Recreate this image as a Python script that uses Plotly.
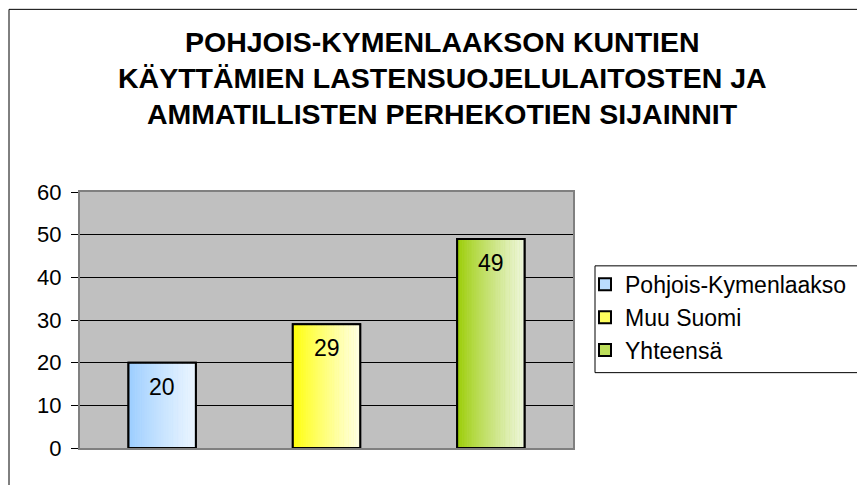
import plotly.graph_objects as go

# ---- data ----
categories = ["Pohjois-Kymenlaakso", "Muu Suomi", "Yhteensä"]
values = [20, 29, 49]
color_start = ["#99CCFF", "#FFFF00", "#99CC00"]
color_end = ["#EDF6FF", "#FFFFEA", "#F0F7E0"]
y_ticks = [0, 10, 20, 30, 40, 50, 60]
title_lines = [
    "POHJOIS-KYMENLAAKSON KUNTIEN",
    "KÄYTTÄMIEN LASTENSUOJELULAITOSTEN JA",
    "AMMATILLISTEN PERHEKOTIEN SIJAINNIT",
]

FONT = "Liberation Sans, Arial, sans-serif"
BAR_W = 0.41
N_SLICES = 40

W, H = 865, 485
OFF = 8  # page body margin offset
PX0, PX1, PY0, PY1 = 80, 573, 192, 448.5
L, T = PX0 - OFF, PY0 - OFF
R, B = W - (PX1 - OFF), H - (PY1 - OFF)
PW, PH = PX1 - PX0, PY1 - PY0


def fx(sx):
    return (sx - PX0) / PW


def fy(sy):
    return (PY1 - sy) / PH


def hex_rgb(h):
    h = h.lstrip("#")
    return tuple(int(h[j:j + 2], 16) for j in (0, 2, 4))


def mix(c1, c2, t):
    a, b = hex_rgb(c1), hex_rgb(c2)
    return "rgb(%d,%d,%d)" % tuple(round(a[j] + (b[j] - a[j]) * t) for j in range(3))


fig = go.Figure()
for i, (cat, val) in enumerate(zip(categories, values)):
    c1, c2 = color_start[i], color_end[i]
    fig.add_trace(go.Bar(
        x=[i], y=[val], width=BAR_W, name=cat, legendgroup=cat,
        marker=dict(color=mix(c1, c2, 0.4), line=dict(color="black", width=2)),
        hoverinfo="skip",
    ))
    step = BAR_W / N_SLICES
    for k in range(N_SLICES):
        t = ((k + 0.5) / N_SLICES) ** 0.85
        fig.add_trace(go.Bar(
            x=[i], y=[val], width=step * 1.2, offset=-BAR_W / 2 + k * step,
            marker=dict(color=mix(c1, c2, t), line=dict(width=0)),
            showlegend=False, legendgroup=cat, hoverinfo="skip",
        ))
    fig.add_trace(go.Bar(
        x=[i], y=[val], width=BAR_W, legendgroup=cat,
        marker=dict(color="rgba(0,0,0,0)", line=dict(color="black", width=2)),
        showlegend=False, name=cat,
    ))

annotations = [
    dict(x=i, y=v, xref="x", yref="y", text=str(v), showarrow=False,
         yshift=-24, yanchor="middle", font=dict(family=FONT, size=23, color="black"))
    for i, v in enumerate(values)
]
title_y = [42, 78, 113.5]
for line, sy in zip(title_lines, title_y):
    annotations.append(dict(
        x=fx(442), y=fy(sy), xref="paper", yref="paper", text="<b>%s</b>" % line,
        showarrow=False, xanchor="center", yanchor="middle",
        font=dict(family=FONT, size=28.5, color="black"),
    ))

fig.update_layout(
    width=W, height=H,
    margin=dict(l=L, r=R, t=T, b=B, autoexpand=False),
    paper_bgcolor="white",
    plot_bgcolor="#C0C0C0",
    barmode="overlay",
    font=dict(family=FONT, color="black"),
    xaxis=dict(
        range=[-0.5, len(categories) - 0.5], showticklabels=False, ticks="",
        showgrid=False, zeroline=False, showline=True, linecolor="#808080",
        linewidth=2, mirror=True, fixedrange=True,
    ),
    yaxis=dict(
        range=[0, 60], tickvals=y_ticks, ticks="outside", ticklen=7,
        tickcolor="black", tickwidth=1, ticklabelstandoff=5,
        tickfont=dict(family=FONT, size=22, color="black"),
        showgrid=True, gridcolor="black", gridwidth=1, zeroline=False,
        showline=True, linecolor="#808080", linewidth=2, mirror=True,
    ),
    legend=dict(
        x=fx(585), xanchor="left", y=fy(263), yanchor="top",
        borderwidth=0, bgcolor="rgba(0,0,0,0)",
        font=dict(family=FONT, size=23, color="black"),
        tracegroupgap=5, traceorder="normal",
    ),
    annotations=annotations,
    shapes=[
        dict(type="rect", xref="paper", yref="paper",
             x0=fx(9), x1=2.0, y0=-1.0, y1=fy(9),
             line=dict(color="black", width=1), fillcolor="rgba(0,0,0,0)"),
        dict(type="rect", xref="paper", yref="paper",
             x0=fx(595), x1=fx(900), y0=fy(373), y1=fy(266),
             line=dict(color="black", width=1), fillcolor="white", layer="below"),
    ],
    showlegend=True,
)

fig.write_html("out.html")
